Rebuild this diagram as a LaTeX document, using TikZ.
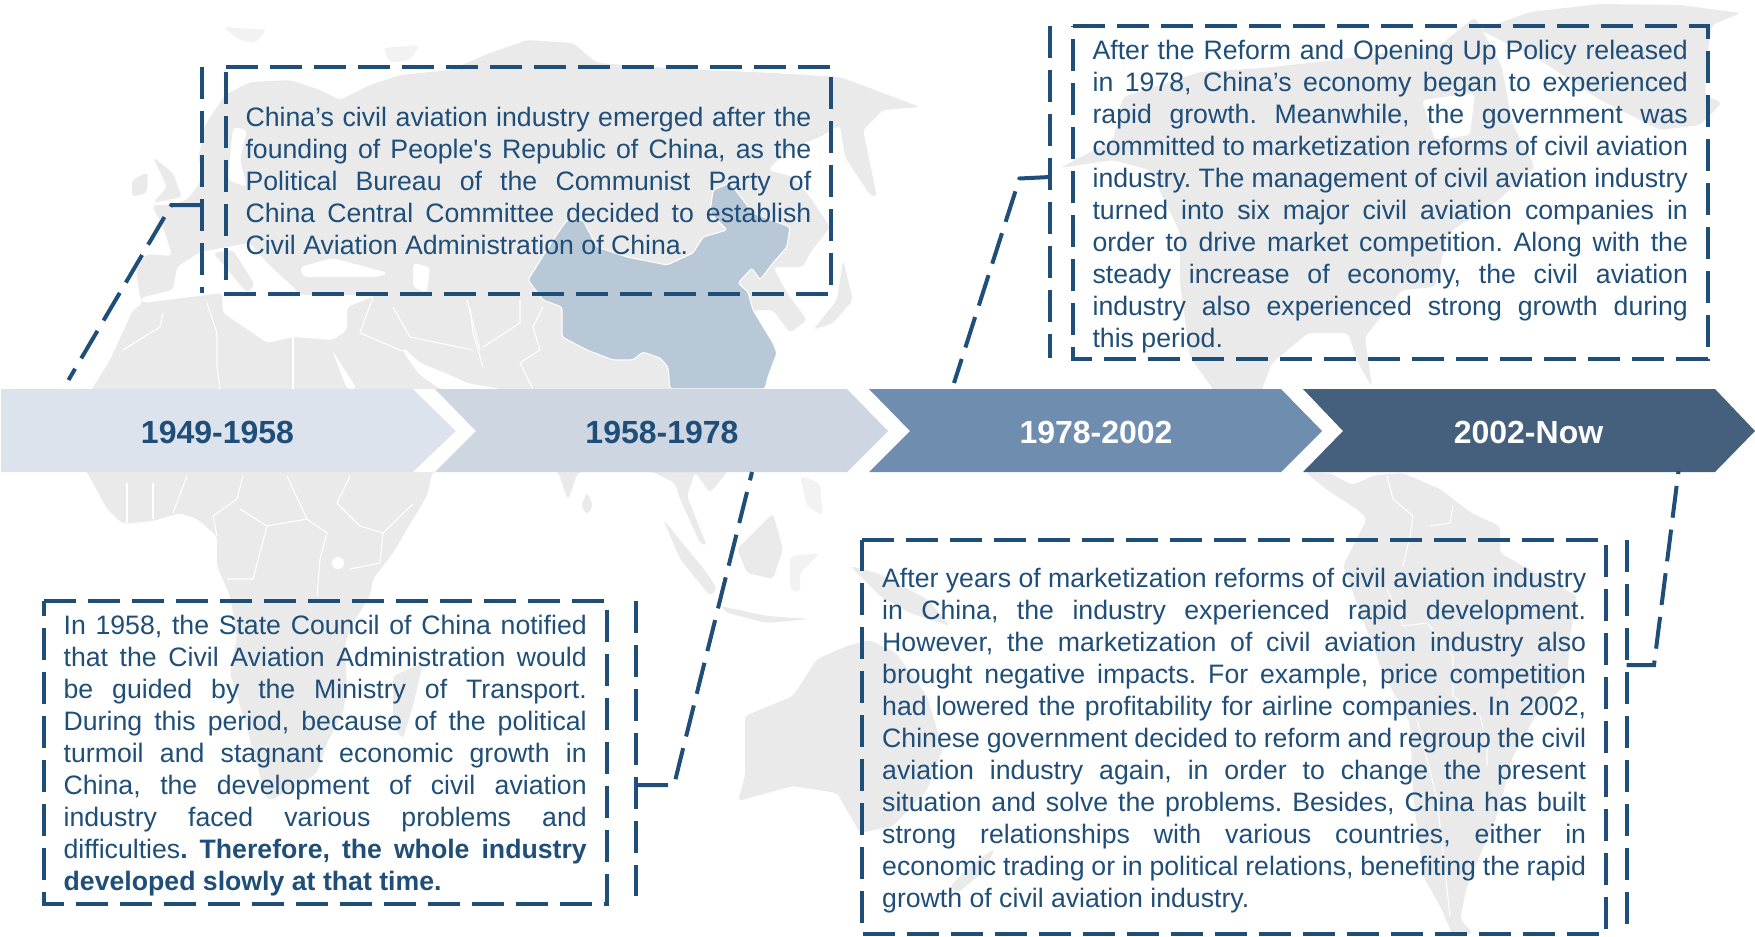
\documentclass[tikz,border=0pt]{standalone}
\usepackage{fontspec}
\newfontfamily\bodyfont{Liberation Sans}
\definecolor{inkblue}{HTML}{1F4E79}
\definecolor{landgrey}{HTML}{EAEAEA}
\definecolor{islegrey}{HTML}{F2F2F2}
\definecolor{chinablue}{HTML}{B9C8D7}
\definecolor{eraone}{HTML}{DDE3EC}
\definecolor{eratwo}{HTML}{CDD6E1}
\definecolor{erathree}{HTML}{6F8DAF}
\definecolor{erafour}{HTML}{45607D}
\tikzset{
  land/.style={fill=landgrey,rounded corners=3pt},
  isle/.style={fill=islegrey,rounded corners=3pt},
  sea/.style={fill=white,rounded corners=3pt},
  borderline/.style={draw=white,line width=0.8pt},
  dashline/.style={draw=inkblue,line width=3pt,dash pattern=on 24pt off 9pt},
  textbox/.style={anchor=north west,inner xsep=14.7pt,inner ysep=0pt,align=justify,
    text=inkblue,font=\bodyfont\fontsize{20}{24}\selectfont\frenchspacing},
  eralabel/.style={font=\bodyfont\bfseries\fontsize{24}{28}\selectfont}
}
\begin{document}
\begin{tikzpicture}[x=0.75pt,y=-0.75pt]
  \useasboundingbox (0,0) rectangle (1755,936);
  % map
  \fill[land] (140,297) -- (136,270) -- (146,254) -- (172,256) -- (165,232) -- (152,205) -- (170,205)
    -- (187,200) -- (197,187) -- (205,172) -- (198,160) -- (205,125) -- (225,95) -- (250,82) -- (290,80)
    -- (320,90) -- (340,100) -- (370,85) -- (400,75) -- (450,70) -- (490,53) -- (527,40) -- (573,43)
    -- (597,63) -- (653,67) -- (707,70) -- (773,73) -- (840,77) -- (883,93) -- (920,107) -- (883,110)
    -- (863,130) -- (877,197) -- (870,195) -- (845,157) -- (840,125) -- (820,137) -- (787,150) -- (768,170)
    -- (793,177) -- (810,197) -- (830,227) -- (810,253) -- (803,267) -- (773,267) -- (787,293) -- (807,320)
    -- (790,333) -- (773,310) -- (753,310) -- (773,343) -- (777,353) -- (768,377) -- (765,389) -- (727,472)
    -- (710,493) -- (695,472) -- (687,496) -- (707,546) -- (700,543) -- (680,499) -- (675,483) -- (653,472)
    -- (578,472) -- (568,500) -- (558,472) -- (500,430) -- (432,473) -- (427,496) -- (413,519) -- (393,553)
    -- (373,579) -- (370,596) -- (353,623) -- (345,643) -- (347,689) -- (343,713) -- (327,743) -- (317,773)
    -- (293,789) -- (268,801) -- (260,776) -- (247,729) -- (230,673) -- (237,636) -- (230,596) -- (217,566)
    -- (217,536) -- (197,519) -- (180,513) -- (153,521) -- (123,524) -- (107,509) -- (93,483) -- (87,473)
    -- (70,430) -- (92,389) -- (110,360) -- (133,310) -- (143,303) -- cycle;
  \fill[sea] (140,298) -- (173,290) -- (177,267) -- (200,252) -- (250,243) -- (267,263) -- (293,287)
    -- (300,295) -- (377,295) -- (347,307) -- (347,330) -- (333,340) -- (293,337) -- (267,343) -- (253,333)
    -- (223,313) -- (222,293) -- (143,303) -- cycle;
  \fill[land] (213,253) -- (233,250) -- (255,285) -- (247,293) -- (228,270) -- cycle;
  \fill[sea] (300,267) -- (333,258) -- (388,273) -- (377,277) -- (333,277) -- (303,277) -- cycle;
  \fill[sea] (413,263) -- (430,267) -- (427,293) -- (413,287) -- cycle;
  \fill[sea] (233,127) -- (247,130) -- (240,160) -- (247,187) -- (228,180) -- cycle;
  \fill[sea] (332,350) -- (357,389) -- (347,389) -- cycle;
  \fill[sea] (403,347) -- (420,363) -- (450,375) -- (467,383) -- (500,389) -- (440,389) -- (420,375) -- (405,355) -- cycle;
  \fill[fill=white] (338,563) circle (6);
  \fill[land] (153,157) -- (173,173) -- (182,197) -- (153,203) -- (167,187) -- cycle;
  \fill[land] (132,180) -- (148,172) -- (147,193) -- (132,197) -- cycle;
  \fill[isle] (223,27) -- (267,30) -- (255,43) -- (240,40) -- cycle;
  \fill[isle] (383,48) -- (420,45) -- (410,60) -- (390,63) -- cycle;
  \fill[land] (393,676) -- (423,663) -- (413,706) -- (403,739) -- (393,726) -- cycle;
  \fill[land] (587,492) -- (593,506) -- (587,515) -- (581,506) -- cycle;
  \fill[land] (663,519) -- (707,573) -- (717,589) -- (710,596) -- (680,559) -- cycle;
  \fill[land] (720,606) -- (767,616) -- (810,619) -- (767,623) -- (727,613) -- cycle;
  \fill[land] (737,549) -- (773,513) -- (783,549) -- (773,579) -- (747,573) -- cycle;
  \fill[isle] (790,556) -- (820,553) -- (800,573) -- (800,593) -- (790,589) -- cycle;
  \fill[isle] (800,476) -- (820,483) -- (823,516) -- (807,506) -- cycle;
  \fill[land] (850,566) -- (877,573) -- (927,599) -- (950,626) -- (910,613) -- (880,596) -- cycle;
  \fill[land] (843,260) -- (853,300) -- (833,323) -- (813,330) -- (837,300) -- cycle;
  \fill[land] (738,801) -- (745,776) -- (745,716) -- (793,696) -- (817,659) -- (847,646) -- (870,640)
    -- (896,653) -- (927,696) -- (943,749) -- (927,790) -- (893,826) -- (860,833) -- (837,793) -- (793,786) -- cycle;
  \fill[land] (950,886) -- (975,862) -- (995,848) -- (985,870) -- (958,893) -- cycle;
  \fill[land] (1060,168) -- (1113,140) -- (1123,97) -- (1200,72) -- (1263,68) -- (1335,60) -- (1440,45)
    -- (1475,17) -- (1502,67) -- (1512,123) -- (1535,167) -- (1495,203) -- (1448,233) -- (1435,287)
    -- (1402,290) -- (1365,337) -- (1372,387) -- (1358,363) -- (1348,333) -- (1308,333) -- (1272,363)
    -- (1262,389) -- (1262,430) -- (1213,430) -- (1213,389) -- (1190,357) -- (1180,283) -- (1180,233)
    -- (1150,170) -- (1113,160) -- cycle;
  \fill[sea] (1422,100) -- (1475,93) -- (1470,135) -- (1435,140) -- cycle;
  \fill[land] (1480,30) -- (1530,12) -- (1600,4) -- (1680,5) -- (1741,13) -- (1712,25) -- (1708,50)
    -- (1705,95) -- (1722,103) -- (1700,125) -- (1660,130) -- (1600,100) -- (1540,60) -- cycle;
  \fill[land] (1305,472) -- (1330,473) -- (1352,485) -- (1375,475) -- (1403,473) -- (1440,489) -- (1473,514)
    -- (1500,526) -- (1500,553) -- (1523,566) -- (1577,596) -- (1570,636) -- (1567,683) -- (1537,713)
    -- (1513,756) -- (1497,816) -- (1467,886) -- (1460,919) -- (1473,933) -- (1453,936) -- (1440,906)
    -- (1423,876) -- (1413,793) -- (1410,723) -- (1383,673) -- (1343,566) -- (1353,546) -- (1367,519)
    -- (1358,510) -- (1330,492) -- cycle;
  \draw[borderline] (243,476) -- (237,499) -- (213,516) -- (217,536);
  \draw[borderline] (287,476) -- (307,519) -- (267,526) -- (240,509);
  \draw[borderline] (267,526) -- (253,579) -- (227,579);
  \draw[borderline] (307,519) -- (327,533) -- (320,559) -- (317,596);
  \draw[borderline] (350,476) -- (337,503) -- (360,526) -- (383,533) -- (413,504);
  \draw[borderline] (383,533) -- (380,563) -- (350,569);
  \draw[borderline] (127,483) -- (127,523);
  \draw[borderline] (153,483) -- (153,519);
  \draw[borderline] (187,476) -- (173,513);
  \draw[borderline] (163,313) -- (160,327) -- (123,350);
  \draw[borderline] (207,303) -- (217,333) -- (217,367) -- (220,389);
  \draw[borderline] (293,337) -- (293,389);
  \draw[borderline] (373,297) -- (360,333) -- (407,353);
  \draw[borderline] (393,307) -- (410,337) -- (473,350);
  \draw[borderline] (467,300) -- (480,350);
  \draw[borderline] (470,307) -- (473,333) -- (483,367);
  \draw[borderline] (520,300) -- (520,323) -- (483,347);
  \draw[borderline] (543,307) -- (533,327) -- (540,350) -- (520,363) -- (533,389);
  \draw[borderline] (1387,476) -- (1393,499) -- (1413,516) -- (1410,536) -- (1403,566);
  \draw[borderline] (1430,526) -- (1450,523) -- (1453,506);
  \draw[borderline] (1387,589) -- (1403,626) -- (1427,623) -- (1453,656) -- (1453,696) -- (1480,716) -- (1487,743) -- (1487,766);
  \draw[borderline] (1417,719) -- (1437,799) -- (1450,916);
  \filldraw[fill=chinablue,borderline,rounded corners=2pt] (528,280) -- (553,240) -- (567,220) -- (583,220) -- (597,247) -- (627,257) -- (667,265)
    -- (693,253) -- (703,237) -- (727,230) -- (710,213) -- (713,190) -- (730,183) -- (753,213) -- (790,227)
    -- (787,247) -- (773,263) -- (760,280) -- (752,268) -- (738,283) -- (748,292) -- (753,310) -- (773,343)
    -- (777,353) -- (768,377) -- (765,389) -- (670,389) -- (668,367) -- (660,358) -- (643,352) -- (633,360)
    -- (613,360) -- (587,350) -- (562,337) -- (562,307) -- (543,300) -- cycle;
  % timeline
  \fill[eraone] (1,389) -- (413,389) -- (456,431) -- (413,472) -- (1,472) -- cycle;
  \fill[white] (413,389) -- (456,431) -- (413,472) -- (435,472) -- (476,431) -- (435,389) -- cycle;
  \fill[eratwo] (435,389) -- (847,389) -- (888,431) -- (847,472) -- (435,472) -- (476,431) -- cycle;
  \fill[erathree] (869,389) -- (1281,389) -- (1322,431) -- (1281,472) -- (869,472) -- (910,431) -- cycle;
  \fill[erafour] (1303,389) -- (1715,389) -- (1755,431) -- (1715,472) -- (1303,472) -- (1343,431) -- cycle;
  \node[eralabel,text=inkblue] (era1) at (217.5,432.5) {1949-1958};
  \node[eralabel,text=inkblue] (era2) at (662,432.5) {1958-1978};
  \node[eralabel,text=white] (era3) at (1096,432.5) {1978-2002};
  \node[eralabel,text=white] (era4) at (1528.5,432.5) {2002-Now};
  % boxes
  \node[textbox,text width=424.3pt,minimum height=170pt] (box1) at (225.7,66.7)
    {\rule{0pt}{16.1pt}China’s civil aviation industry emerged after the\linebreak
     founding of People's Republic of China, as the\linebreak
     Political Bureau of the Communist Party of\linebreak
     China Central Committee decided to establish\linebreak
     Civil Aviation Administration of China.};
  \node[textbox,text width=446.5pt,minimum height=249.7pt] (box2) at (1072.7,26)
    {\rule{0pt}{20.6pt}After the Reform and Opening Up Policy released\linebreak
     in 1978, China’s economy began to experienced\linebreak
     rapid growth. Meanwhile, the government was\linebreak
     committed to marketization reforms of civil aviation\linebreak
     industry. The management of civil aviation industry\linebreak
     turned into six major civil aviation companies in\linebreak
     order to drive market competition. Along with the\linebreak
     steady increase of economy, the civil aviation\linebreak
     industry also experienced strong growth during\linebreak
     this period.};
  \node[textbox,text width=392.3pt,minimum height=226.5pt] (box3) at (43.8,601)
    {\rule{0pt}{19.6pt}In 1958, the State Council of China notified\linebreak
     that the Civil Aviation Administration would\linebreak
     be guided by the Ministry of Transport.\linebreak
     During this period, because of the political\linebreak
     turmoil and stagnant economic growth in\linebreak
     China, the development of civil aviation\linebreak
     industry faced various problems and\linebreak
     difficulties\textbf{. Therefore, the whole industry}\linebreak
     \textbf{developed slowly at that time.}};
  \node[textbox,text width=528pt,minimum height=294.7pt] (box4) at (862.3,540.3)
    {\rule{0pt}{19.6pt}After years of marketization reforms of civil aviation industry\linebreak
     in China, the industry experienced rapid development.\linebreak
     However, the marketization of civil aviation industry also\linebreak
     brought negative impacts. For example, price competition\linebreak
     had lowered the profitability for airline companies. In 2002,\linebreak
     Chinese government decided to reform and regroup the civil\linebreak
     aviation industry again, in order to change the present\linebreak
     situation and solve the problems. Besides, China has built\linebreak
     strong relationships with various countries, either in\linebreak
     economic trading or in political relations, benefiting the rapid\linebreak
     growth of civil aviation industry.};
  \draw[dashline] (box1.north west) -- (box1.north east) -- (box1.south east) -- (box1.south west) -- cycle;
  \draw[dashline] (box2.north west) -- (box2.north east) -- (box2.south east) -- (box2.south west) -- cycle;
  \draw[dashline] (box3.north west) -- (box3.north east) -- (box3.south east) -- (box3.south west) -- cycle;
  \draw[dashline] (box4.north west) -- (box4.north east) -- (box4.south east) -- (box4.south west) -- cycle;
  % brackets and leaders
  \coordinate (top1) at (201.5,67);
  \coordinate (bot1) at (201.5,293);
  \coordinate (tap1) at (201.5,205);
  \coordinate (bend1) at (171.5,205);
  \coordinate (foot1) at (68.5,380);
  \coordinate (top2) at (1050,26);
  \coordinate (bot2) at (1050,358);
  \coordinate (tap2) at (1050,177);
  \coordinate (bend2) at (1019.5,178.5);
  \coordinate (foot2) at (954,383);
  \coordinate (top3) at (636,601);
  \coordinate (bot3) at (636,896);
  \coordinate (tap3) at (636,785);
  \coordinate (bend3) at (674,785);
  \coordinate (foot3) at (752,472);
  \coordinate (top4) at (1626.5,540);
  \coordinate (bot4) at (1626.5,924);
  \coordinate (tap4) at (1626.5,665);
  \coordinate (bend4) at (1654,665);
  \coordinate (foot4) at (1678.5,471);
  \draw[dashline] (top1) -- (bot1);
  \draw[dashline] (top2) -- (bot2);
  \draw[dashline] (top3) -- (bot3);
  \draw[dashline] (top4) -- (bot4);
  \draw[dashline] (tap1) -- (bend1) -- (foot1);
  \draw[dashline] (tap2) -- (bend2) -- (foot2);
  \draw[dashline] (tap3) -- (bend3) -- (foot3);
  \draw[dashline] (tap4) -- (bend4) -- (foot4);
\end{tikzpicture}
\end{document}
